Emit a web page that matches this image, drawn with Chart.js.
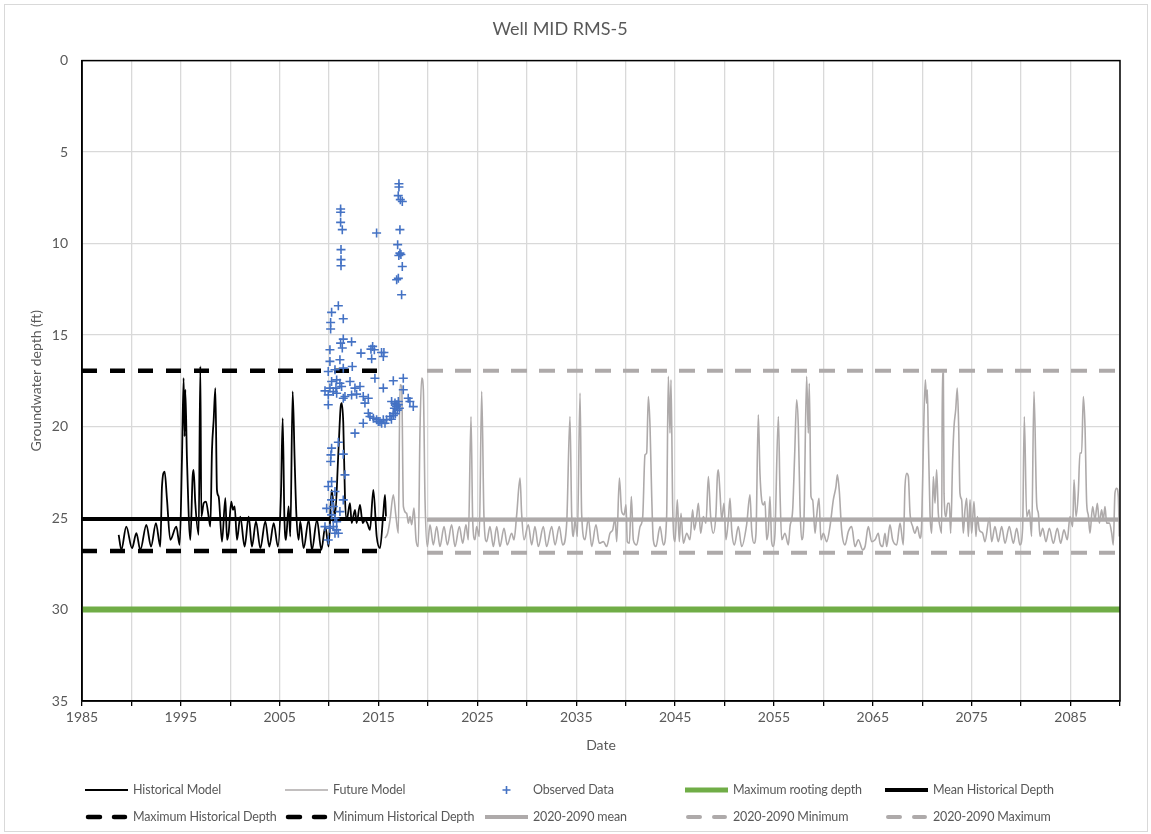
<!DOCTYPE html>
<html>
<head>
<meta charset="utf-8">
<script src="https://cdn.jsdelivr.net/npm/chart.js@4.4.1/dist/chart.umd.min.js"></script>
<style>
  html, body { margin: 0; padding: 0; background: #fff; }
  #wrap { position: relative; width: 1151px; height: 834px; font-family: Lato, "Open Sans", sans-serif; }
  #frame { position: absolute; left: 4px; top: 4px; width: 1142px; height: 826px; border: 1px solid #d9d9d9; pointer-events: none; }
  #legend { position: absolute; left: 85px; top: 776px; width: 1000px; display: grid; grid-template-columns: repeat(5, 200px); grid-auto-rows: 27px; }
  .item { display: flex; align-items: center; color: #595959; font-size: 12.5px; letter-spacing: -0.15px; white-space: nowrap; }
  .item svg { flex: none; margin-right: 5px; }
</style>
</head>
<body>
<div id="wrap">
  <canvas id="wellChart" width="1151" height="834"></canvas>
  <div id="frame"></div>
  <div id="legend"></div>
</div>
<script>
// historical model (year, depth ft)
const histYear = [1988.71,1988.98,1989.48,1990.06,1990.50,1990.90,1991.51,1991.98,1992.48,1992.92,1993.09,1993.36,1993.60,1993.93,1994.54,1994.88,1995.11,1995.28,1995.38,1995.45,1995.62,1995.96,1996.19,1996.29,1996.46,1996.80,1996.97,1997.07,1997.31,1997.54,1997.81,1997.98,1998.15,1998.32,1998.49,1998.65,1998.82,1999.16,1999.50,1999.67,1999.83,2000.10,2000.27,2000.44,2000.68,2001.01,2001.45,2001.86,2002.19,2002.60,2003.04,2003.54,2003.95,2004.39,2004.82,2005.13,2005.30,2005.47,2005.63,2005.90,2006.07,2006.31,2006.51,2006.68,2006.91,2007.08,2007.42,2007.93,2008.26,2008.77,2009.21,2009.61,2009.95,2010.25,2010.59,2010.93,2011.17,2011.27,2011.43,2011.60,2011.77,2012.11,2012.28,2012.62,2012.78,2013.12,2013.39,2013.63,2013.86,2014.13,2014.47,2014.81,2015.14,2015.48,2015.65,2015.75];
const histDepth = [25.92,26.74,25.47,26.65,25.83,26.74,25.37,26.56,25.28,26.56,23.28,22.46,24.01,26.19,25.47,26.47,21.82,17.35,20.54,17.99,21.82,26.19,22.73,22.37,24.19,25.92,16.71,24.92,24.19,24.10,24.92,25.47,21.27,19.63,17.90,23.46,23.82,26.29,23.92,26.19,25.83,24.10,24.55,24.37,26.19,24.92,26.56,24.92,26.56,25.19,26.65,25.19,26.56,25.28,26.56,23.64,19.54,24.92,26.19,24.37,26.01,18.08,21.82,24.74,26.19,25.19,26.65,25.10,26.74,25.10,26.74,25.47,26.56,23.46,24.92,21.46,18.90,18.72,19.81,23.83,25.10,24.19,25.28,24.55,25.28,24.28,25.28,25.10,25.28,25.65,23.46,26.01,26.65,24.74,23.73,24.92];

// future model
const futYear = [2015.65,2015.92,2016.16,2016.49,2016.76,2017.00,2017.17,2017.34,2017.51,2017.84,2018.01,2018.18,2018.35,2018.58,2018.79,2019.02,2019.19,2019.36,2019.53,2019.70,2019.93,2020.20,2020.54,2020.88,2021.21,2021.62,2021.96,2022.39,2022.73,2023.17,2023.51,2023.84,2024.08,2024.35,2024.52,2024.75,2024.92,2025.19,2025.43,2025.66,2025.93,2026.27,2026.61,2026.95,2027.28,2027.69,2028.02,2028.46,2028.70,2028.97,2029.31,2029.47,2029.71,2030.15,2030.49,2030.82,2031.16,2031.67,2032.00,2032.51,2032.85,2033.28,2033.62,2034.03,2034.36,2034.53,2034.70,2034.87,2035.11,2035.38,2035.54,2035.88,2036.22,2036.56,2036.99,2037.33,
  2037.74,2038.07,2038.41,2038.68,2038.92,2039.09,2039.36,2039.59,2039.83,2040.03,2040.16,2040.37,2040.57,2040.77,2041.11,2041.45,2041.72,2041.95,2042.12,2042.29,2042.46,2042.63,2042.79,2043.06,2043.47,2043.81,2044.14,2044.31,2044.48,2044.58,2044.75,2044.99,2045.22,2045.42,2045.59,2045.83,2046.17,2046.50,2046.77,2046.94,2047.18,2047.35,2047.58,2047.85,2048.12,2048.36,2048.59,2048.86,2049.13,2049.27,2049.37,2049.54,2049.71,2049.94,2050.14,2050.38,2050.55,2050.72,2050.99,2051.39,2051.73,2052.23,2052.57,2052.74,2052.98,2053.18,2053.41,2053.58,2053.75,2053.92,2054.09,2054.26,2054.43,2054.59,2054.76,2054.93,2055.10,2055.44,2055.61,2055.78,2056.11,2056.45,2056.62,2056.89,2057.09,2057.29,2057.46,2057.63,2057.80,2058.03,2058.30,2058.47,2058.57,2058.74,2058.91,2059.15,2059.31,2059.55,2059.75,2059.99,2060.33,2060.66,2061.00,2061.27,2061.41,2061.61,2061.84,2062.18,2062.52,2062.86,2063.19,2063.53,
  2063.97,2064.21,2064.54,2064.88,2065.22,2065.55,2065.72,2065.99,2066.23,2066.40,2066.73,2067.00,2067.41,2067.75,2068.08,2068.25,2068.42,2068.59,2068.76,2069.03,2069.26,2069.50,2069.77,2069.94,2070.17,2070.31,2070.44,2070.51,2070.61,2070.78,2070.95,2071.12,2071.29,2071.45,2071.62,2071.79,2071.96,2072.03,2072.13,2072.20,2072.40,2072.57,2072.74,2072.87,2073.07,2073.21,2073.38,2073.54,2073.68,2073.81,2073.98,2074.15,2074.32,2074.49,2074.66,2074.83,2074.99,2075.23,2075.43,2075.57,2075.77,2076.11,2076.34,2076.78,2077.02,2077.35,2077.69,2078.03,2078.37,2078.80,2079.21,2079.55,2079.88,2080.15,2080.32,2080.56,2080.83,2081.06,2081.30,2081.57,2081.74,2081.91,2082.18,2082.51,2082.85,2083.26,2083.66,2084.00,2084.33,2084.67,2084.94,2085.21,2085.35,2085.55,2085.78,2085.95,2086.12,2086.29,2086.46,2086.63,2086.79,2086.96,2087.23,2087.47,2087.71,2087.91,2088.14,2088.31,2088.48,2088.65,2088.92,2089.16,2089.32,2089.49,2089.66,2089.83,2089.93];
const futDepth = [26.10,25.83,25.10,23.73,24.92,25.83,17.72,17.81,24.37,24.74,25.28,24.92,25.37,24.46,26.19,26.56,20.18,17.35,17.99,24.01,26.56,25.37,26.47,25.47,26.56,25.47,26.47,25.37,26.56,25.47,26.38,25.37,26.19,19.45,25.10,26.19,25.47,26.01,18.08,24.92,26.29,25.47,26.56,25.47,26.56,25.56,26.47,25.83,26.19,24.83,22.82,24.74,26.19,25.37,26.47,25.47,26.56,25.47,26.56,25.47,26.47,25.47,26.47,25.28,19.45,24.74,26.01,25.10,26.01,18.17,24.74,26.19,25.01,26.56,25.37,26.38,
  26.29,26.56,25.83,25.65,25.01,26.29,22.82,24.64,24.83,24.28,26.29,26.38,23.82,26.19,26.47,25.47,24.92,21.55,21.45,18.36,20.00,23.82,26.19,26.56,25.47,26.47,24.92,17.26,20.36,17.44,24.37,26.29,24.01,26.29,24.74,26.38,25.83,26.19,24.55,25.65,24.92,24.19,25.83,24.92,25.28,22.73,24.92,25.83,24.74,22.73,22.37,23.64,25.10,24.19,26.19,25.10,23.92,25.65,26.47,25.47,26.56,25.37,23.73,25.65,26.38,25.83,19.36,22.55,24.01,24.28,24.10,26.19,25.65,23.82,26.29,26.56,25.83,19.45,23.64,26.19,25.83,26.47,25.47,24.55,21.55,18.54,20.00,24.37,26.19,25.10,17.26,20.36,17.63,23.82,24.01,25.83,24.92,23.92,26.19,25.83,26.29,25.47,24.01,23.28,22.64,23.55,25.65,26.47,25.74,25.47,26.56,26.19,
  26.74,26.56,25.47,26.29,26.19,25.83,26.38,26.56,25.83,26.56,25.37,26.19,26.47,25.28,26.47,23.28,22.55,22.73,24.74,25.47,25.83,25.47,26.10,25.28,19.45,17.44,18.72,17.99,20.54,24.74,25.83,22.73,24.19,22.37,24.74,25.47,25.83,17.08,17.08,23.64,24.92,24.19,24.19,25.83,21.82,20.00,19.08,17.90,20.00,23.64,24.01,25.83,24.55,23.92,26.01,24.01,25.83,24.10,26.01,24.92,25.65,25.83,26.29,25.01,26.29,25.47,26.29,25.47,26.38,25.47,26.38,25.56,26.47,25.56,19.45,24.92,24.55,26.01,18.08,24.19,24.74,26.01,25.56,26.29,25.56,26.38,25.56,26.38,25.65,26.19,24.92,25.47,22.91,24.92,23.64,21.45,21.45,18.36,20.00,24.19,24.83,25.83,24.37,25.10,24.19,25.28,24.55,25.10,24.37,25.28,25.28,25.83,26.47,23.64,23.37,23.82,26.01];

// observed data
const obsYear = [2011.16,2011.16,2011.16,2011.33,2014.80,2011.20,2011.20,2011.20,2017.06,2017.06,2016.99,2017.20,2017.40,2017.16,2016.93,2017.16,2017.26,2017.05,2017.40,2016.83,2017.00,2017.33,2010.93,2010.25,2011.43,2010.15,2010.15,2011.43,2011.16,2012.27,2010.08,2011.33,2014.40,2014.23,2014.57,2015.30,2015.54,2013.22,
  2010.08,2011.09,2012.34,2014.30,2015.48,2009.91,2010.59,2011.43,2014.63,2016.49,2017.50,2010.25,2010.76,2011.09,2012.11,2015.48,2009.58,2010.08,2010.42,2010.69,2011.26,2012.61,2013.12,2017.50,2009.91,2010.76,2011.60,2012.27,2012.78,2013.45,2013.96,2013.62,2016.32,2016.66,2016.83,2017.00,2018.00,2018.17,2018.51,2009.91,2011.43,2013.96,2014.13,2014.47,2014.80,2015.14,2015.48,2015.81,2016.15,2016.49,2015.65,2015.31,2014.97,2013.45,
  2016.60,2016.80,2017.00,2016.90,2016.70,2017.10,2016.50,2016.30,
  2012.61,2010.93,2010.25,2010.18,2010.15,2011.43,2011.60,2010.25,2009.91,2010.59,2010.25,2011.43,2009.75,2010.42,2011.09,2010.25,2010.59,2010.76,2009.58,2010.08,2010.42,2010.76,2010.59,2010.93,2009.91];
const obsDepth = [8.11,8.29,8.84,9.24,9.42,10.33,10.88,11.21,6.73,6.91,7.38,7.60,7.70,9.24,10.06,10.52,10.60,10.65,11.25,11.98,11.90,12.80,13.40,13.76,14.11,14.31,14.67,15.22,15.44,15.37,15.80,15.71,15.62,15.77,15.80,15.95,15.95,15.99,
  16.44,16.35,16.72,16.30,16.17,16.99,16.90,16.81,17.36,17.50,17.36,17.54,17.45,17.63,17.54,17.90,18.05,17.90,18.09,17.90,17.81,17.90,17.81,17.99,18.27,18.18,18.36,18.27,18.23,18.36,18.45,18.72,18.63,18.72,18.81,18.63,18.45,18.63,18.91,18.81,18.45,19.27,19.45,19.54,19.63,19.73,19.63,19.63,19.45,19.27,19.82,19.82,19.73,19.82,
  19.00,18.90,18.80,19.10,19.30,19.00,19.40,19.60,
  20.36,20.86,21.18,21.55,21.91,21.51,22.64,23.01,23.28,23.55,24.01,24.01,24.47,24.37,24.65,24.83,25.01,25.20,25.47,25.56,25.47,25.65,25.83,25.83,26.20];

// reference levels (ft) and the year spans they cover
const rootingDepth = 30;
const histMean = 25.05, histMax = 16.95, histMin = 26.8;
const futMean = 25.1, futMin = 16.95, futMax = 26.9;
const histSpan = [1985, 2015.75];
const futSpan = [2019.9, 2090];
const fullSpan = [1985, 2090];

const xTicksMin = 1985, xTicksMax = 2090;

const pts = (xs, ys) => xs.map((x, i) => ({ x: x, y: ys[i] }));
const flat = (span, v) => span.map(x => ({ x: x, y: v }));

const GRAY = '#AEAAAA';
const TXT = '#595959';

const datasets = [
  { label: 'Historical Model', data: pts(histYear, histDepth), showLine: true, cubicInterpolationMode: 'monotone', borderColor: '#000', borderWidth: 1.8, pointRadius: 0, order: 3 },
  { label: 'Future Model', data: pts(futYear, futDepth), showLine: true, cubicInterpolationMode: 'monotone', borderColor: GRAY, borderWidth: 1.6, pointRadius: 0, order: 3 },
  { label: 'Observed Data', data: pts(obsYear, obsDepth), showLine: false, pointStyle: 'cross', pointRadius: 4.5, borderColor: '#4472C4', pointBorderWidth: 1.6, order: 0 },
  { label: 'Maximum rooting depth', data: flat(fullSpan, rootingDepth), showLine: true, borderColor: '#70AD47', borderWidth: 6, pointRadius: 0, order: 1 },
  { label: 'Mean Historical Depth', data: flat(histSpan, histMean), showLine: true, borderColor: '#000', borderWidth: 4, pointRadius: 0, order: 1 },
  { label: 'Maximum Historical Depth', data: flat(histSpan, histMax), showLine: true, borderColor: '#000', borderWidth: 4.5, borderDash: [15, 13], pointRadius: 0, order: 1 },
  { label: 'Minimum Historical Depth', data: flat(histSpan, histMin), showLine: true, borderColor: '#000', borderWidth: 4.5, borderDash: [15, 13], pointRadius: 0, order: 1 },
  { label: '2020-2090 mean', data: flat(futSpan, futMean), showLine: true, borderColor: GRAY, borderWidth: 4, pointRadius: 0, order: 1 },
  { label: '2020-2090 Minimum', data: flat(futSpan, futMin), showLine: true, borderColor: GRAY, borderWidth: 4, borderDash: [16, 12], pointRadius: 0, order: 1 },
  { label: '2020-2090 Maximum', data: flat(futSpan, futMax), showLine: true, borderColor: GRAY, borderWidth: 4, borderDash: [16, 12], pointRadius: 0, order: 1 }
];

// black box round the plot area
const plotFrame = {
  id: 'plotFrame',
  afterDatasetsDraw(chart) {
    const a = chart.chartArea, ctx = chart.ctx;
    ctx.save();
    ctx.strokeStyle = '#000';
    ctx.lineWidth = 1.5;
    ctx.strokeRect(a.left, a.top, a.right - a.left, a.bottom - a.top);
    ctx.restore();
  }
};

const ctx = document.getElementById('wellChart').getContext('2d');
const wellChart = new Chart(ctx, {
  type: 'scatter',
  data: { datasets: datasets },
  options: {
    responsive: false,
    animation: false,
    devicePixelRatio: 1,
    layout: { padding: { left: 0, right: 31, top: 0, bottom: 72 } },
    elements: { line: { tension: 0 } },
    plugins: {
      legend: { display: false },
      tooltip: { enabled: false },
      title: {
        display: true,
        text: 'Well MID RMS-5',
        color: TXT,
        font: { family: 'Lato', size: 18, weight: 'normal' },
        padding: { top: 18, bottom: 21 }
      }
    },
    scales: {
      x: {
        type: 'linear',
        min: xTicksMin,
        max: xTicksMax,
        afterFit(s) { s.height = 61; },
        ticks: {
          stepSize: 5,
          autoSkip: false,
          maxRotation: 0,
          padding: 3,
          color: TXT,
          font: { family: 'Lato', size: 14 },
          callback: v => ((v - xTicksMin) % 10 === 0 ? String(v) : '')
        },
        grid: { color: '#D9D9D9', lineWidth: 1.3, tickLength: 5, tickColor: '#000', tickWidth: 1.3 },
        border: { color: '#000', width: 1.5 },
        title: { display: true, text: 'Date', color: TXT, font: { family: 'Lato', size: 14 }, padding: { top: 0, bottom: 8 } }
      },
      y: {
        reverse: true,
        min: 0,
        max: 35,
        afterFit(s) { s.width = 82; },
        ticks: { stepSize: 5, padding: 14, color: TXT, font: { family: 'Lato', size: 14 } },
        grid: { color: '#D9D9D9', lineWidth: 1.3, drawTicks: false },
        border: { color: '#000', width: 1.5 },
        title: { display: true, text: 'Groundwater depth (ft)', color: TXT, font: { family: 'Lato', size: 14 }, padding: { top: 28, bottom: 0 } }
      }
    }
  },
  plugins: [plotFrame]
});

// legend in Excel-like columns, built from the datasets
function sample(ds) {
  if (ds.pointStyle === 'cross') {
    return '<svg width="43" height="12"><path d="M17.5 6H25.5M21.5 2V10" stroke="' + ds.borderColor + '" stroke-width="1.6"/></svg>';
  }
  const dash = ds.borderDash ? ' stroke-dasharray="12 14"' : '';
  const w = Math.min(ds.borderWidth, 5);
  const cap = ds.borderDash ? ' stroke-linecap="round"' : '';
  return '<svg width="43" height="12"><line x1="' + (ds.borderDash ? 3 : 0) + '" y1="6" x2="' + (ds.borderDash ? 40 : 43) + '" y2="6" stroke="' + ds.borderColor + '" stroke-width="' + w + '"' + dash + cap + '/></svg>';
}
document.getElementById('legend').innerHTML = wellChart.data.datasets
  .map(ds => '<div class="item">' + sample(ds) + '<span>' + ds.label + '</span></div>')
  .join('');
</script>
</body>
</html>
